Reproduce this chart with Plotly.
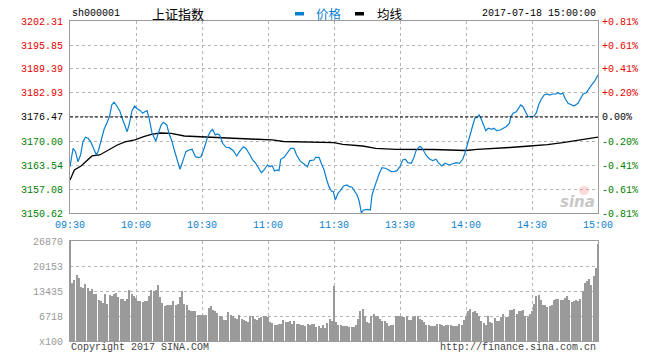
import plotly.graph_objects as go

# ---------------- data ----------------
prev_close = 3176.47
price_ticks = [3150.62, 3157.08, 3163.54, 3170.00, 3176.47, 3182.93, 3189.39, 3195.85, 3202.31]
pct_labels = ["-0.81%", "-0.61%", "-0.41%", "-0.20%", "0.00%", "+0.20%", "+0.41%", "+0.61%", "+0.81%"]
time_ticks = [0, 30, 60, 90, 120, 150, 180, 210, 240]
time_labels = ["09:30", "10:00", "10:30", "11:00", "11:30", "13:30", "14:00", "14:30", "15:00"]
vol_ticks = [0, 6718, 13435, 20153, 26870]
vol_labels = ["x100", "6718", "13435", "20153", "26870"]

# price line (minute offset from 09:30 on the trading clock, price)
price_min = [0, 1.4, 2.5, 3.6, 4.8, 5.9, 7, 8.2, 9.4, 10.9, 12, 13, 14.2, 15.5, 17, 18, 19, 20, 21, 22.6,
             24, 25.2, 26, 27, 28.2, 29.4, 30.6, 32, 33, 34, 35, 36, 37.3, 39, 40.3, 41.4, 42.4, 44, 45, 46.4,
             47.4, 48.5, 50, 51.2, 52.7, 54.2, 55.5, 57, 58.5, 59.5, 61, 62.6, 63.8, 64.8, 66, 67, 68, 69.4, 70.9, 72.4,
             74.2, 75.8, 77, 78.8, 80, 81.8, 82.9, 84.4, 85.9, 87, 88.2, 89.7, 90.9, 92, 93, 94.2, 95, 95.8, 97.3, 98.8,
             100.3, 101.8, 103, 104.5, 106, 107.9, 109, 110.9, 111.7, 113.2, 114.2, 115.5, 116.7, 117.7, 118.8, 119.7,
             120.6, 121.8, 122.9, 124.4, 125.9, 127, 128.2, 129.4, 130.5, 131.5, 132.4, 133.5, 135, 136.5, 137.3,
             138.5, 139.5, 140.6, 141.8, 143.3, 144.9, 146, 147.6, 148.6, 150.1, 151.2, 152.4, 153.6, 155.1, 156.2,
             157.3, 158.8, 159.7, 160.6, 162.1, 163.6, 164.9, 166.4, 167.4, 169, 170.5, 172.4, 174, 175.5, 177,
             178.5, 179.5, 180.6, 181.8, 183, 184, 185.2, 186, 187.1, 188.2, 189, 190.1, 191.7, 192.7, 193.9,
             195.5, 196.7, 198.2, 199.7, 200.3, 201.4, 202.9, 203.6, 204.9, 205.9, 207, 208.2, 209.4, 210.9, 212,
             213, 214.2, 215.5, 217, 218, 219.5, 221, 221.8, 223, 224, 225.2, 226.4, 227.9, 229.1, 230.9, 232.1,
             233.2, 234.7, 235.9, 237.1, 238.3, 239.4, 240]
price_val = [3163.09, 3168.04, 3167.13, 3164.44, 3166.24, 3169.82, 3171.00, 3170.74, 3169.82, 3167.59,
             3166.24, 3167.59, 3170.28, 3173.16, 3175.20, 3176.74, 3179.70, 3180.43, 3179.70, 3178.17,
             3175.66, 3173.70, 3172.51, 3174.77, 3178.17, 3179.43, 3178.62, 3178.17, 3177.47, 3177.90,
             3178.17, 3176.12, 3172.08, 3170.01, 3172.70, 3174.32, 3175.04, 3174.32, 3172.08, 3169.82,
             3167.59, 3165.35, 3162.39, 3164.44, 3167.13, 3167.59, 3167.77, 3165.78, 3165.51, 3165.78,
             3168.04, 3171.17, 3172.51, 3173.16, 3171.62, 3171.89, 3171.62, 3169.39, 3168.31, 3168.21,
             3167.40, 3165.97, 3167.13, 3168.47, 3167.99, 3166.24, 3165.08, 3164.01, 3162.66, 3161.47,
             3162.20, 3163.55, 3163.09, 3163.28, 3161.93, 3162.20, 3162.01, 3165.08, 3165.62, 3166.70,
             3168.04, 3168.04, 3166.24, 3164.71, 3164.01, 3163.09, 3164.71, 3164.89, 3165.62, 3165.62,
             3164.01, 3162.20, 3159.51, 3157.71, 3156.55, 3156.36,
             3154.12, 3155.93, 3156.63, 3157.89, 3158.16, 3157.71, 3157.55, 3156.36, 3155.47, 3153.67,
             3150.71, 3151.43, 3151.62, 3151.43, 3155.47, 3157.71, 3159.70, 3161.31, 3162.82, 3162.66,
             3162.20, 3161.74, 3161.85, 3162.01, 3163.28, 3164.89, 3165.08, 3164.17, 3164.01, 3165.35,
             3167.40, 3168.47, 3168.39, 3167.59, 3165.97, 3165.08, 3164.71, 3165.08, 3164.17, 3163.28,
             3164.01, 3163.55, 3163.82, 3164.17, 3164.01, 3165.08, 3166.70, 3168.93, 3171.62, 3174.32,
             3176.12, 3176.39, 3177.01, 3175.66, 3173.86, 3172.78, 3173.43, 3173.16, 3173.43, 3172.78,
             3172.97, 3173.43, 3173.86, 3174.72, 3176.39, 3177.47, 3177.90, 3178.54, 3179.70, 3179.24,
             3177.90, 3176.55, 3176.55, 3176.74, 3177.63, 3179.70, 3181.24, 3182.39, 3182.66, 3182.39,
             3182.66, 3182.66, 3183.01, 3182.66, 3182.85, 3181.24, 3180.16, 3179.70, 3179.43, 3180.16,
             3181.50, 3182.66, 3183.01, 3184.20, 3185.09, 3185.97, 3187.32, 3187.78]

# average price line
avg_min = [0, 2, 5, 7, 10, 13.5, 17, 21.5, 25, 29.5, 33.5, 37, 41, 46, 52, 62, 74, 85, 92, 97, 112, 120,
           124, 130, 133, 139, 148, 165, 180, 185, 195, 200, 209, 217, 224, 232, 240]
avg_val = [3159.50, 3162.20, 3163.28, 3164.36, 3165.97, 3166.24, 3167.32, 3168.93, 3169.74, 3170.28,
           3171.17, 3171.76, 3172.16, 3172.08, 3171.35, 3171.00, 3170.74, 3170.47, 3170.28, 3169.87,
           3169.66, 3169.55, 3169.12, 3168.85, 3168.66, 3168.04, 3167.77, 3167.72, 3167.45, 3167.77,
           3168.04, 3168.26, 3168.66, 3169.01, 3169.55, 3170.20, 3171.04]

# volume per minute (x100 shares), minute 0..240
volume = [
    26870, 15533, 16425, 17765, 17050, 14640, 14372, 15354, 14372, 13480,
    13926, 12676, 12676, 11069, 10802, 10177, 12676, 9909, 12230, 11962,
    12587, 13033, 11784, 11337, 11159, 10802, 11337, 13748, 12676, 11962,
    11516, 10802, 10623, 10445, 10623, 10802, 11962, 13748, 13480, 13748,
    15087, 11694, 10177, 9463, 9552, 9730, 9552, 10802, 9730, 9998,
    11694, 13480, 9998, 9552, 8391, 7945, 8124, 8124, 7052, 6874,
    7052, 6874, 7052, 8838, 9284, 8213, 7945, 7499, 6785, 6338,
    5713, 5713, 7677, 6874, 6785, 6160, 5981, 7052, 5981, 5713,
    5445, 5088, 6606, 6606, 5892, 5713, 6160, 6338, 6606, 6606,
    6338, 4999, 4731, 4374, 4374, 4642, 4642, 5535, 5088, 5088,
    5267, 4642, 5445, 4642, 4642, 4374, 4196, 4106, 4642, 4374,
    4642, 4642, 3749, 3928, 3482, 4196, 3482, 4821, 5981, 5445,
    14819,
    4999, 4374, 4374, 3928, 3928, 4106, 3660, 3660, 3660, 4374,
    5892, 8124, 8659, 6606, 5088, 4821, 6606, 7231, 6606, 6606,
    5892, 5445, 5445, 4821, 4106, 4374, 4196, 6606, 6606, 6606,
    6427, 6427, 6606, 5535, 5713, 6338, 6785, 6785, 5892, 5713,
    4999, 4196, 4196, 3928, 3928, 4106, 4553, 4642, 4374, 3928,
    4196, 4374, 4196, 4106, 4106, 3928, 4642, 4374, 5713, 6606,
    7945, 8659, 7677, 7945, 7499, 6606, 5445, 4821, 4374, 6785,
    5088, 4821, 6160, 5445, 5445, 6338, 7320, 6338, 6338, 8391,
    8391, 8659, 7231, 8124, 8124, 8391, 6606, 6338, 7231, 8124,
    9998, 11962, 12409, 11069, 9730, 9552, 9016, 9500, 9730, 11069,
    11337, 11337, 11069, 11069, 11500, 12141, 11069, 10355, 10802, 11000,
    10802, 11337, 13480, 15533, 16158, 16693, 15087, 17586, 19729, 26067,
]
vol_min = list(range(len(volume)))

# ---------------- styling ----------------
W, H = 661, 359
L, R, T, B = 70, 598, 21, 341
MONO = "Liberation Mono"
CJK = "Noto Sans CJK SC"
RED, GREEN, BLACK = "#e60000", "#008000", "#000000"
BLUE = "#0a7fd0"
GRID = "#b4b4b4"
BORDER = "#9a9a9a"


def px(x):
    return (x - L) / (R - L)


def py(y):
    return (B - y) / (B - T)


def tick_color(v):
    if abs(v - prev_close) < 0.005:
        return BLACK
    return RED if v > prev_close else GREEN


left_text = [f'<span style="color:{tick_color(v)}">{v:.2f}</span>' for v in price_ticks]
right_text = [f'<span style="color:{tick_color(v)}">{t}</span>' for v, t in zip(price_ticks, pct_labels)]

fig = go.Figure()
fig.add_trace(go.Scatter(x=avg_min, y=avg_val, mode="lines", line=dict(color="#000000", width=1.3),
                         xaxis="x", yaxis="y", hoverinfo="skip", showlegend=False))
fig.add_trace(go.Scatter(x=price_min, y=price_val, mode="lines", line=dict(color=BLUE, width=1.2),
                         xaxis="x", yaxis="y", hoverinfo="skip", showlegend=False))
fig.add_trace(go.Scatter(x=[0], y=[prev_close], mode="none", xaxis="x", yaxis="y2",
                         hoverinfo="skip", showlegend=False))
fig.add_trace(go.Bar(x=vol_min, y=volume, width=0.38, marker=dict(color="#9a9a9a", line=dict(width=0)),
                     xaxis="x2", yaxis="y3", hoverinfo="skip", showlegend=False))

axis_common = dict(showgrid=True, gridcolor=GRID, griddash="dot", gridwidth=1, zeroline=False,
                   showline=True, linecolor=BORDER, linewidth=1, mirror=True, ticks="")
top_frac = py(213)

fig.update_layout(
    width=W, height=H, margin=dict(l=L, r=W - R, t=T, b=H - B),
    paper_bgcolor="white", plot_bgcolor="white",
    xaxis=dict(domain=[0, 1], range=[0, 240], anchor="y", tickvals=time_ticks, ticktext=time_labels,
               tickfont=dict(family=MONO, size=10, color=BLUE), ticklabelstandoff=2, **axis_common),
    yaxis=dict(domain=[top_frac, 1], range=[price_ticks[0], price_ticks[-1]], tickvals=price_ticks,
               ticktext=left_text, tickfont=dict(family=MONO, size=10, color=BLACK), ticklabelstandoff=4,
               **axis_common),
    yaxis2=dict(overlaying="y", side="right", anchor="x", range=[price_ticks[0], price_ticks[-1]],
                tickvals=price_ticks, ticktext=right_text, showgrid=False, zeroline=False, showline=False,
                ticks="", tickfont=dict(family=MONO, size=10, color=BLACK), ticklabelstandoff=3),
    xaxis2=dict(domain=[0, 1], range=[0, 240], anchor="y3", tickvals=time_ticks, showticklabels=False,
                **axis_common),
    yaxis3=dict(domain=[0, py(241)], range=[0, 26870], tickvals=vol_ticks, ticktext=vol_labels,
                tickfont=dict(family=MONO, size=10, color="#999999"), ticklabelstandoff=4, **axis_common),
    bargap=0,
)

# previous close dashed line
fig.add_shape(type="line", xref="x", yref="y", x0=0, x1=240, y0=prev_close, y1=prev_close,
              line=dict(color="#000000", width=1, dash="3px,2px"))

# header
ann = []
ann.append(dict(text="sh000001", x=px(70), y=py(14), xanchor="left", yanchor="middle",
                font=dict(family=MONO, size=10, color="#000")))
ann.append(dict(text="上证指数", x=px(150), y=py(14), xanchor="left", yanchor="middle",
                font=dict(family=CJK, size=13, color="#000")))
ann.append(dict(text="价格", x=px(314), y=py(14), xanchor="left", yanchor="middle",
                font=dict(family=CJK, size=12.5, color=BLUE)))
ann.append(dict(text="均线", x=px(375), y=py(14), xanchor="left", yanchor="middle",
                font=dict(family=CJK, size=12.5, color="#000")))
ann.append(dict(text="2017-07-18 15:00:00", x=px(598), y=py(14), xanchor="right", yanchor="middle",
                font=dict(family=MONO, size=10, color="#000")))
ann.append(dict(text="Copyright 2017 SINA.COM", x=px(69), y=py(347), xanchor="left", yanchor="middle",
                font=dict(family=MONO, size=10, color="#444")))
ann.append(dict(text="http://finance.sina.com.cn", x=px(598), y=py(347), xanchor="right", yanchor="middle",
                font=dict(family=MONO, size=10, color="#444")))
ann.append(dict(text="<b><i>sina</i></b>", x=px(577), y=py(202), xanchor="center", yanchor="middle",
                font=dict(family="DejaVu Sans", size=15, color="#c8c8c8")))
for a in ann:
    a.update(xref="paper", yref="paper", showarrow=False)
fig.update_layout(annotations=ann)

fig.add_shape(type="rect", xref="paper", yref="paper", x0=px(295), x1=px(304), y0=py(12), y1=py(15.5),
              fillcolor=BLUE, line=dict(width=0))
fig.add_shape(type="rect", xref="paper", yref="paper", x0=px(355), x1=px(364), y0=py(12), y1=py(15.5),
              fillcolor="#000", line=dict(width=0))
fig.add_shape(type="circle", xref="paper", yref="paper", x0=px(579), x1=px(589), y0=py(186), y1=py(195),
              fillcolor="rgba(240,150,150,0.35)", line=dict(width=0))

assert len(price_min) == len(price_val)
assert len(avg_min) == len(avg_val)
assert len(volume) == 241

fig.write_html("out.html")
